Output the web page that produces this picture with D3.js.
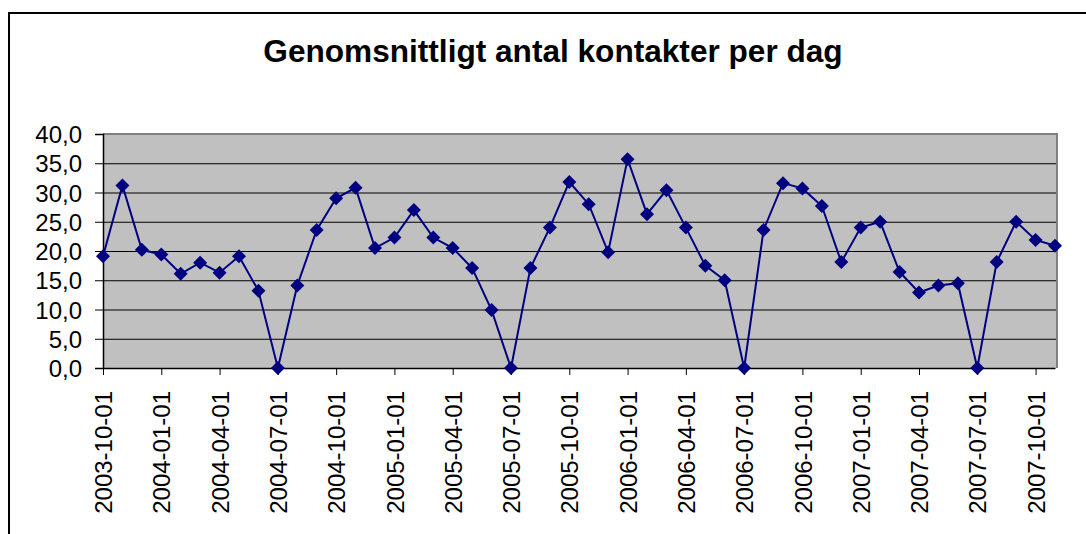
<!DOCTYPE html>
<html>
<head>
<meta charset="utf-8">
<script src="https://cdn.jsdelivr.net/npm/d3@7"></script>
<style>
  body { margin: 0; background: #fff; }
  svg { display: block; font-family: "Liberation Sans", Arial, sans-serif; }
</style>
</head>
<body>
<svg id="chart" width="1086" height="534"></svg>
<script>
const title = 'Genomsnittligt antal kontakter per dag';

const months = [
  '2003-10-01', '2003-11-01', '2003-12-01',
  '2004-01-01', '2004-02-01', '2004-03-01', '2004-04-01', '2004-05-01', '2004-06-01',
  '2004-07-01', '2004-08-01', '2004-09-01', '2004-10-01', '2004-11-01', '2004-12-01',
  '2005-01-01', '2005-02-01', '2005-03-01', '2005-04-01', '2005-05-01', '2005-06-01',
  '2005-07-01', '2005-08-01', '2005-09-01', '2005-10-01', '2005-11-01', '2005-12-01',
  '2006-01-01', '2006-02-01', '2006-03-01', '2006-04-01', '2006-05-01', '2006-06-01',
  '2006-07-01', '2006-08-01', '2006-09-01', '2006-10-01', '2006-11-01', '2006-12-01',
  '2007-01-01', '2007-02-01', '2007-03-01', '2007-04-01', '2007-05-01', '2007-06-01',
  '2007-07-01', '2007-08-01', '2007-09-01', '2007-10-01', '2007-11-01'
];

const contacts = [
  19.1, 31.2, 20.2, 19.4, 16.1, 18.0, 16.3, 19.1, 13.2, 0.0,
  14.1, 23.6, 29.0, 30.8, 20.5, 22.3, 27.0, 22.3, 20.5, 17.1,
  9.9, 0.0, 17.1, 24.0, 31.8, 28.0, 19.8, 35.7, 26.3, 30.4,
  24.0, 17.5, 15.0, 0.0, 23.6, 31.6, 30.7, 27.7, 18.1, 24.0,
  25.0, 16.4, 12.9, 14.1, 14.5, 0.0, 18.1, 25.0, 21.9, 20.9
];

const tickLabels = [
  '2003-10-01', '2004-01-01', '2004-04-01', '2004-07-01', '2004-10-01',
  '2005-01-01', '2005-04-01', '2005-07-01', '2005-10-01', '2006-01-01',
  '2006-04-01', '2006-07-01', '2006-10-01', '2007-01-01', '2007-04-01',
  '2007-07-01', '2007-10-01'
];

const yTicks = [0, 5, 10, 15, 20, 25, 30, 35, 40];

const svg = d3.select('#chart');
const plot = { left: 103, right: 1057, top: 134, bottom: 368 };
const navy = '#000080';
const fmt = (v) => d3.format('.1f')(v).replace('.', ',');

// chart area frame, runs off the right and bottom edge
svg.append('rect')
  .attr('x', 9).attr('y', 13)
  .attr('width', 1200).attr('height', 700)
  .attr('fill', '#fff')
  .attr('stroke', '#000')
  .attr('stroke-width', 2);

svg.append('text')
  .attr('x', 553).attr('y', 62)
  .attr('text-anchor', 'middle')
  .attr('font-size', 31.6)
  .attr('font-weight', 'bold')
  .text(title);

const x = d3.scalePoint()
  .domain(months)
  .range([plot.left, plot.right - 2]);

const y = d3.scaleLinear()
  .domain([0, 40])
  .range([plot.bottom, plot.top]);

svg.append('rect')
  .attr('x', plot.left).attr('y', plot.top)
  .attr('width', plot.right - plot.left)
  .attr('height', plot.bottom - plot.top)
  .attr('fill', '#c0c0c0');

// gridlines
svg.append('g')
  .selectAll('line')
  .data(yTicks.filter(d => d > 0 && d < 40))
  .join('line')
  .attr('x1', plot.left).attr('x2', plot.right)
  .attr('y1', d => y(d) + 0.5).attr('y2', d => y(d) + 0.5)
  .attr('stroke', '#000')
  .attr('stroke-width', 1);

// grey plot border top and right
svg.append('path')
  .attr('d', `M${plot.left},${plot.top}H${plot.right}V${plot.bottom}`)
  .attr('fill', 'none')
  .attr('stroke', '#808080')
  .attr('stroke-width', 2);

// y axis
const yAxis = svg.append('g')
  .attr('transform', `translate(${plot.left},0)`)
  .call(d3.axisLeft(y).tickValues(yTicks).tickSize(8).tickPadding(13).tickFormat(fmt));
yAxis.select('.domain').attr('stroke', '#000').attr('stroke-width', 1.5);
yAxis.selectAll('.tick line').attr('stroke', '#000');
yAxis.selectAll('.tick text')
  .attr('font-size', 24)
  .attr('font-family', '"Liberation Sans", Arial, sans-serif')
  .attr('fill', '#000')
  .attr('dy', '0.36em');

// x axis
const xAxis = svg.append('g')
  .attr('transform', `translate(0,${plot.bottom})`)
  .call(d3.axisBottom(x).tickValues(tickLabels).tickSize(7).tickSizeOuter(0).tickFormat(d => d));
xAxis.select('.domain').attr('stroke', '#000').attr('stroke-width', 1.5);
xAxis.selectAll('.tick line').attr('stroke', '#000');
xAxis.selectAll('.tick text')
  .attr('font-size', 24)
  .attr('font-family', '"Liberation Sans", Arial, sans-serif')
  .attr('fill', '#000')
  .attr('text-anchor', 'end')
  .attr('transform', 'rotate(-90)')
  .attr('x', -23)
  .attr('y', 0)
  .attr('dy', '0.36em');

// series
const line = d3.line()
  .x((d, i) => x(months[i]))
  .y(d => y(d));

svg.append('path')
  .datum(contacts)
  .attr('d', line)
  .attr('fill', 'none')
  .attr('stroke', navy)
  .attr('stroke-width', 2);

svg.append('g')
  .selectAll('path')
  .data(contacts)
  .join('path')
  .attr('transform', (d, i) => `translate(${x(months[i])},${y(d)})`)
  .attr('d', 'M0,-7L7,0L0,7L-7,0Z')
  .attr('fill', navy);
</script>
</body>
</html>
